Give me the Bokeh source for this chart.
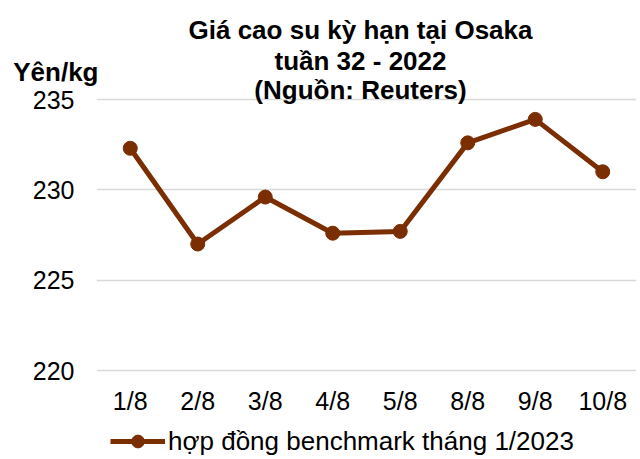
from bokeh.plotting import figure
from bokeh.models import Label, Legend, LegendItem, ColumnDataSource, FixedTicker, LinearAxis
from bokeh.embed import file_html
from bokeh.resources import INLINE

categories = ["1/8", "2/8", "3/8", "4/8", "5/8", "8/8", "9/8", "10/8"]
prices = [232.3, 227.0, 229.6, 227.6, 227.7, 232.6, 233.9, 231.0]
y_ticks = [220, 225, 230, 235]
title_lines = ["Giá cao su kỳ hạn tại Osaka", "tuần 32 - 2022", "(Nguồn: Reuters)"]
unit_label = "Yên/kg"
series_name = "hợp đồng benchmark tháng 1/2023"

COLOR = "#7A2E02"
FONT = "Liberation Sans"
UNIT_POS = 236.5  # vertical place of the unit caption on the value scale

# frame spans the whole canvas height so titles/legend are not clipped;
# 235 sits at y=99px and 220 at y=370px
p = figure(x_range=categories, y_range=(215.074, 240.48), width=640, height=459,
           output_backend="svg", toolbar_location=None,
           min_border_left=96, min_border_right=4, min_border_top=0, min_border_bottom=0)
p.outline_line_color = None
p.background_fill_color = "white"
p.border_fill_color = "white"

src = ColumnDataSource(dict(x=categories, y=prices))
ln = p.line("x", "y", source=src, line_color=COLOR, line_width=5)
sc = p.scatter("x", "y", source=src, size=14, fill_color=COLOR, line_color=COLOR)

p.xgrid.grid_line_color = None
p.ygrid.ticker = FixedTicker(ticks=y_ticks)
p.ygrid.grid_line_color = "#D9D9D9"
p.ygrid.grid_line_width = 1.5
p.yaxis.ticker = FixedTicker(ticks=y_ticks)

unit_axis = LinearAxis(ticker=FixedTicker(ticks=[UNIT_POS]),
                       major_label_overrides={UNIT_POS: unit_label})
p.add_layout(unit_axis, "left")

for ax in (p.xaxis[0], p.yaxis[0], unit_axis):
    ax.axis_line_color = None
    ax.major_tick_line_color = None
    ax.minor_tick_line_color = None
    ax.major_label_text_font = FONT
    ax.major_label_text_font_size = "25px"
    ax.major_label_text_color = "black"
unit_axis.major_label_text_font_style = "bold"
unit_axis.major_label_text_font_size = "26px"

p.xaxis.major_label_standoff = -79
p.yaxis[0].major_label_standoff = 16
unit_axis.major_label_standoff = -75

# screen units relative to frame bottom-left (frame: x 96..636, y 0..459)
title_sy = [429.7, 399.0, 370.0]
for txt, yy in zip(title_lines, title_sy):
    p.add_layout(Label(x=264, y=yy, x_units="screen", y_units="screen", text=txt,
                       text_align="center", text_baseline="alphabetic",
                       text_font=FONT, text_font_style="bold", text_font_size="26px",
                       text_color="black"))

legend = Legend(items=[LegendItem(label=series_name, renderers=[ln, sc])],
                location=(14, 2), orientation="horizontal",
                padding=0, margin=0, border_line_color=None, background_fill_alpha=0,
                glyph_width=55, glyph_height=32, label_height=20, label_standoff=3,
                label_text_font=FONT, label_text_font_size="26px", label_text_color="black")
p.add_layout(legend, "center")

open("out.html", "w").write(file_html(p, INLINE))
